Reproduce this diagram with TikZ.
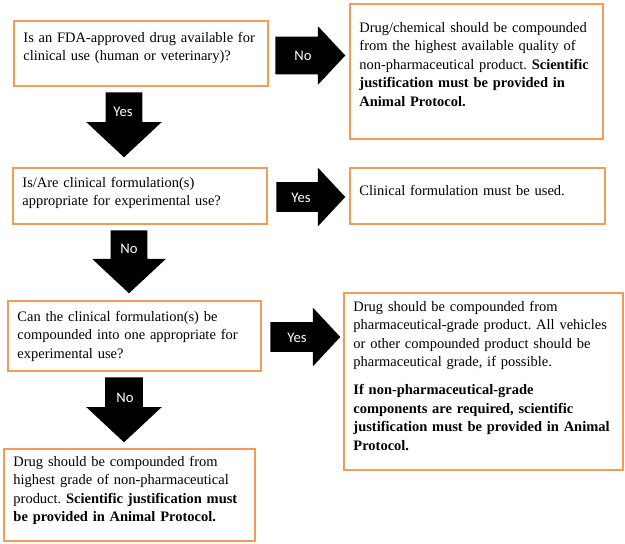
\documentclass[tikz,border=0pt]{standalone}
\usepackage{fontspec}
\setmainfont{Liberation Serif}
\newfontfamily\labelfont{Carlito}
\usetikzlibrary{shapes.arrows}
\definecolor{boxorange}{HTML}{F59B58}
\hyphenpenalty=10000
\exhyphenpenalty=10000

\tikzset{
  infobox/.style={draw=boxorange, line width=1.7pt, fill=white, anchor=north west,
    align=left, inner xsep=7pt, inner ysep=0pt,
    font=\fontsize{10.85}{13.9}\selectfont\frenchspacing},
  blockarrow/.style={single arrow, fill=black, anchor=tail, inner xsep=0pt,
    minimum width=0pt, single arrow tip angle=94},
  pointdown/.style={shape border rotate=270, inner ysep=0pt},
  arrowlabel/.style={text=white, inner sep=0pt, font=\labelfont\fontsize{11}{13}\selectfont}
}

\begin{document}
\begin{tikzpicture}[x=0.75pt, y=-0.75pt]
\useasboundingbox (0,0) rectangle (625,543);

% questions
\node[infobox, text width=176.5pt, text height=15.75pt, text depth=33pt] (q1) at (13,20)
  {Is an FDA-approved drug available for\\clinical use (human or veterinary)?};
\node[infobox, text width=176.5pt, text height=14.25pt, text depth=27.75pt] (q2) at (12,167)
  {Is/Are clinical formulation(s)\\appropriate for experimental use?};
\node[infobox, text width=175.75pt, text height=15pt, text depth=37.5pt] (q3) at (7,300)
  {Can the clinical formulation(s) be\\compounded into one appropriate for\\experimental use?};

% outcomes
\node[infobox, text width=175.75pt, text height=21pt, text depth=80.25pt] (s1) at (349,3)
  {Drug/chemical should be compounded\\from the highest available quality of\\non-pharmaceutical product. {\bfseries Scientific\\justification must be provided in\\Animal Protocol.}};
\node[infobox, text width=177.25pt, text height=20.25pt, text depth=21.75pt] (s2) at (349,167)
  {Clinical formulation must be used.};
\node[infobox, text width=195.25pt, text height=13.5pt, text depth=119.25pt] (s3) at (343,292)
  {Drug should be compounded from\\pharmaceutical-grade product. All vehicles\\or other compounded product should be\\pharmaceutical grade, if possible.\\[7pt]{\bfseries If non-pharmaceutical-grade\\components are required, scientific\\justification must be provided in Animal\\Protocol.}};
\node[infobox, text width=174.25pt, text height=12.75pt, text depth=56.25pt] (s4) at (3,448)
  {Drug should be compounded from\\highest grade of non-pharmaceutical\\product. {\bfseries Scientific justification must\\be provided in Animal Protocol.}};

% block arrows
\node[blockarrow, minimum height=52.5pt, inner ysep=13.875pt, single arrow head extend=7.875pt] (no1) at (275,55.5) {};
\node[arrowlabel] (no1text) at (303,56) {No};
\node[blockarrow, pointdown, minimum height=48.75pt, inner xsep=13.5pt, single arrow head extend=14.625pt] (yes1) at (124,92) {};
\node[arrowlabel] (yes1text) at (123,112) {Yes};
\node[blockarrow, minimum height=51.75pt, inner ysep=10.875pt, single arrow head extend=10.875pt] (yes2) at (276,197) {};
\node[arrowlabel] (yes2text) at (301,198) {Yes};
\node[blockarrow, pointdown, minimum height=47.25pt, inner xsep=13.5pt, single arrow head extend=13.875pt] (no2) at (129,230) {};
\node[arrowlabel] (no2text) at (129,249) {No};
\node[blockarrow, minimum height=52.5pt, inner ysep=10.875pt, single arrow head extend=10.875pt] (yes3) at (270,337) {};
\node[arrowlabel] (yes3text) at (297,338) {Yes};
\node[blockarrow, pointdown, minimum height=48.75pt, inner xsep=13.875pt, single arrow head extend=14.25pt] (no3) at (124,377) {};
\node[arrowlabel] (no3text) at (125,398) {No};
\end{tikzpicture}
\end{document}
